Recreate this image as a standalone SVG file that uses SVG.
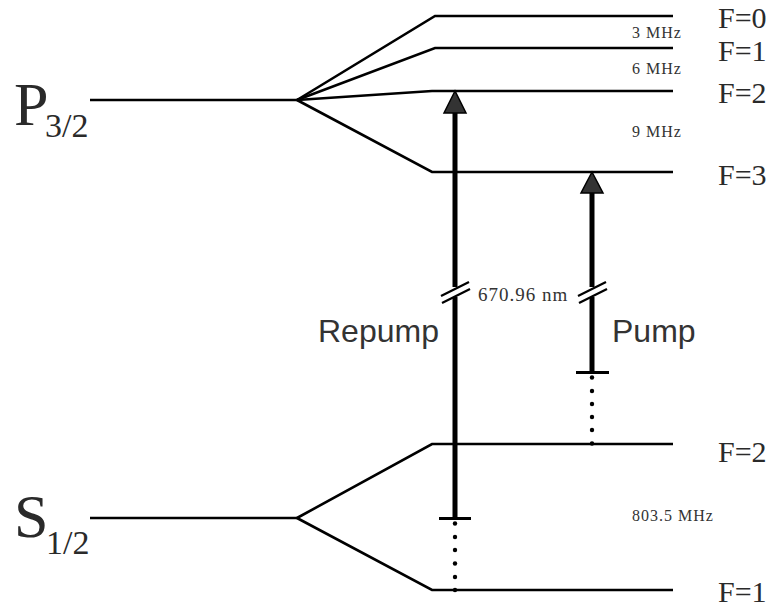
<svg xmlns="http://www.w3.org/2000/svg" width="777" height="610" viewBox="0 0 777 610">
<style>
.lvl{fill:none;stroke:#000;stroke-width:2.6;stroke-linejoin:miter}
.stem{stroke:#000;stroke-width:5;fill:none}
.bar{stroke:#000;stroke-width:3}
.brk{stroke:#000;stroke-width:2.2;fill:none}
.head{fill:#333;stroke:#000;stroke-width:1.5;stroke-linejoin:miter}
.dot{fill:#000}
.F{font-family:"Liberation Serif","Times New Roman",serif;font-size:30px;fill:#2a2a2a}
.big{font-family:"Liberation Serif","Times New Roman",serif;font-size:62px;fill:#2a2a2a}
.sub{font-family:"Liberation Serif","Times New Roman",serif;font-size:34px;fill:#2a2a2a}
.mhz{font-family:"Liberation Serif","Times New Roman",serif;font-size:16px;letter-spacing:1px;fill:#333}
.nm{font-family:"Liberation Serif","Times New Roman",serif;font-size:19px;letter-spacing:1px;fill:#333}
.lab{font-family:"Liberation Sans",Arial,sans-serif;font-size:32px;fill:#333}
</style>
<g id="P32">
<polyline class="lvl" points="90,100 297,100"/>
<polyline class="lvl" points="297,100 435,16 673,16"/>
<polyline class="lvl" points="297,100 435,48 673,48"/>
<polyline class="lvl" points="297,100 432,91 673,91"/>
<polyline class="lvl" points="297,100 432,172 673,172"/>
<text class="big" x="14" y="125">P</text>
<text class="sub" x="45" y="137">3/2</text>
<text class="F" x="718" y="27.5">F=0</text>
<text class="F" x="718" y="61">F=1</text>
<text class="F" x="718" y="103">F=2</text>
<text class="F" x="718" y="185">F=3</text>
<text class="mhz" x="632" y="38">3 MHz</text>
<text class="mhz" x="632" y="74">6 MHz</text>
<text class="mhz" x="632" y="137">9 MHz</text>
</g>
<g id="S12">
<polyline class="lvl" points="90,518 297,518"/>
<polyline class="lvl" points="297,518 432,444 673,444"/>
<polyline class="lvl" points="297,518 432,590 673,590"/>
<text class="big" x="14" y="537">S</text>
<text class="sub" x="46" y="554">1/2</text>
<text class="F" x="718" y="462">F=2</text>
<text class="F" x="718" y="602">F=1</text>
<text class="mhz" x="632" y="521">803.5 MHz</text>
</g>
<g id="connectors">
<g id="repump">
<line class="stem" x1="455" y1="112" x2="455" y2="287"/>
<line class="stem" x1="455" y1="297" x2="455" y2="518"/>
<line class="bar" x1="439" y1="518.5" x2="471" y2="518.5"/>
<polygon class="head" points="455,91 444,113 466,113"/>
<line class="brk" x1="441" y1="296" x2="469" y2="282"/>
<line class="brk" x1="442" y1="303" x2="470" y2="289"/>
<circle class="dot" cx="455" cy="523.5" r="2.2"/>
<circle class="dot" cx="455" cy="537" r="2.2"/>
<circle class="dot" cx="455" cy="550" r="2.2"/>
<circle class="dot" cx="455" cy="563.5" r="2.2"/>
<circle class="dot" cx="455" cy="577" r="2.2"/>
<circle class="dot" cx="455" cy="590" r="2.2"/>
</g>
<g id="pump">
<line class="stem" x1="592" y1="192" x2="592" y2="287"/>
<line class="stem" x1="592" y1="297" x2="592" y2="372"/>
<line class="bar" x1="576" y1="372.5" x2="609" y2="372.5"/>
<polygon class="head" points="592,172 581,193 603,193"/>
<line class="brk" x1="578" y1="296" x2="606" y2="282"/>
<line class="brk" x1="579" y1="303" x2="607" y2="289"/>
<circle class="dot" cx="592" cy="377.5" r="2.2"/>
<circle class="dot" cx="592" cy="391" r="2.2"/>
<circle class="dot" cx="592" cy="404" r="2.2"/>
<circle class="dot" cx="592" cy="417" r="2.2"/>
<circle class="dot" cx="592" cy="430" r="2.2"/>
<circle class="dot" cx="592" cy="443.5" r="2.2"/>
</g>
</g>
<g id="labels">
<text class="nm" x="478" y="301">670.96 nm</text>
<text class="lab" x="318" y="342">Repump</text>
<text class="lab" x="612" y="342">Pump</text>
</g>
</svg>
